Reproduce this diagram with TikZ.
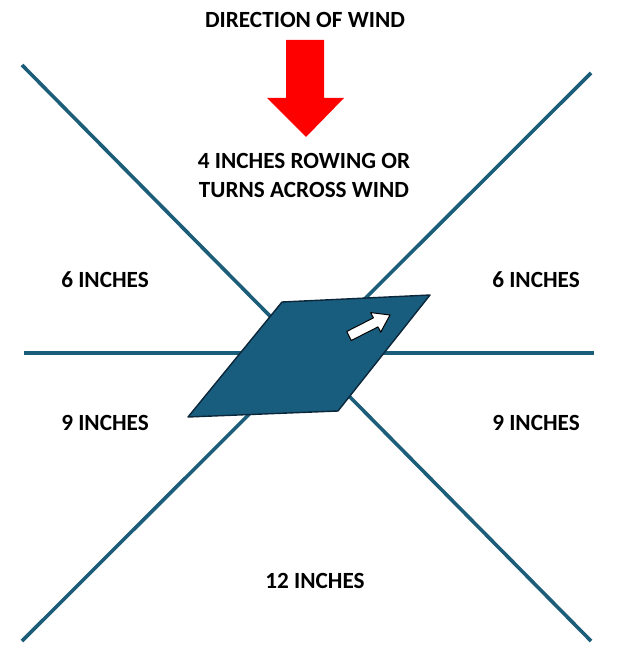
\documentclass[tikz,border=0pt]{standalone}
\usepackage{fontspec}
\setmainfont{Carlito}
\usepackage{tikz}
\usetikzlibrary{calc}
\usetikzlibrary{arrows.meta, positioning}
\definecolor{lineblue}{RGB}{28,94,122}
\definecolor{boardblue}{RGB}{24,92,126}
\definecolor{boardedge}{RGB}{12,38,58}
\definecolor{windred}{RGB}{255,0,0}

\begin{document}
\begin{tikzpicture}[x=1pt,y=-1pt,
    every node/.style={font=\fontsize{23.2}{29}\selectfont\bfseries, align=center, inner sep=0pt},
    axisline/.style={draw=lineblue, line width=3.6pt}]
    \useasboundingbox (0,0) rectangle (633,658);
    % 四条线的端点
    \coordinate (tl) at (22,65);
    \coordinate (tr) at (591,73);
    \coordinate (bl) at (22,641);
    \coordinate (br) at (591,641);
    \coordinate (ml) at (24,353);
    \coordinate (mr) at (594,353);
    % 画线
    \foreach \a/\b in {tl/br,tr/bl,ml/mr} {
        \draw[axisline] (\a) -- (\b);
    }
    % 风向箭头
    \fill[windred] (286,40) -- (324,40) -- (324,98) -- (344,98) -- (306,137)
        -- (267,98) -- (286,98) -- cycle;
    % 中间的板
    \draw[fill=boardblue, draw=boardedge, line width=1.4pt, line join=round]
        (282,302) -- (430,295) -- (338,411) -- (188,417) -- cycle;
    % 白色小箭头
    \draw[fill=white, draw=black, line width=1pt, line join=round]
        (351.3,340.5) -- (378,326.9) -- (380.7,332.2) -- (390,315)
        -- (370.7,312.6) -- (373.4,317.9) -- (346.7,331.5) -- cycle;
    % 文字
    \node (wind) at (305,20) {DIRECTION OF WIND};
    \node (across) at (304,175) {4 INCHES ROWING OR\\TURNS ACROSS WIND};
    \node (sixl) at (105,280) {6 INCHES};
    \node (sixr) at (536,280) {6 INCHES};
    \node (ninel) at (105,423) {9 INCHES};
    \node (niner) at (536,423) {9 INCHES};
    \node (twelve) at (315,581) {12 INCHES};
\end{tikzpicture}
\end{document}
